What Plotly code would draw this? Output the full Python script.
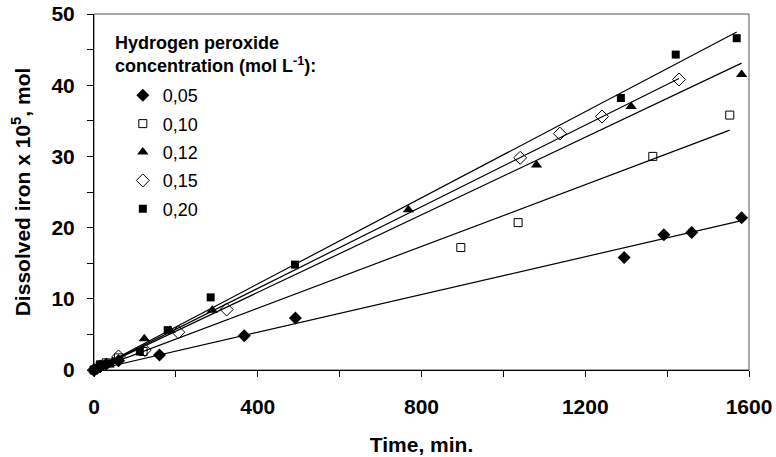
import numpy as np
import plotly.graph_objects as go

# ---- data (time in min, dissolved iron x 1e5 mol) ----
t_005 = [0, 15, 30, 60, 160, 367, 492, 1295, 1392, 1460, 1582]
v_005 = [0, 0.5, 0.8, 1.3, 2.1, 4.8, 7.3, 15.8, 19.0, 19.3, 21.4]

t_010 = [0, 15, 30, 60, 120, 896, 1036, 1365, 1553]
v_010 = [0, 0.6, 1.0, 1.7, 2.6, 17.2, 20.7, 30.0, 35.8]

t_012 = [0, 15, 45, 123, 186, 289, 768, 1081, 1312, 1582]
v_012 = [0, 0.7, 1.2, 4.4, 5.6, 8.4, 22.5, 28.8, 37.0, 41.5]

t_015 = [0, 15, 60, 124, 206, 324, 1041, 1138, 1241, 1429]
v_015 = [0, 0.5, 1.9, 2.8, 5.3, 8.5, 29.8, 33.2, 35.6, 40.8]

t_020 = [0, 15, 40, 112, 180, 285, 491, 1287, 1421, 1570]
v_020 = [0, 0.8, 0.9, 2.6, 5.6, 10.2, 14.8, 38.2, 44.3, 46.6]

labels = ["0,05", "0,10", "0,12", "0,15", "0,20"]
x_ticks = [0, 400, 800, 1200, 1600]
y_ticks = [0, 10, 20, 30, 40, 50]

series = [(t_005, v_005), (t_010, v_010), (t_012, v_012), (t_015, v_015), (t_020, v_020)]
markers = [
    dict(symbol="diamond", size=10, color="black"),
    dict(symbol="square-open", size=8, color="black", line=dict(width=1)),
    dict(symbol="triangle-up", size=10, color="black"),
    dict(symbol="diamond-open", size=10, color="black", line=dict(width=1)),
    dict(symbol="square", size=8, color="black"),
]

FONT = "Liberation Sans, Arial, sans-serif"

fig = go.Figure()

# trend lines (least squares through origin), drawn first
for (t, v) in series:
    t_arr = np.array(t, dtype=float)
    v_arr = np.array(v, dtype=float)
    k = (t_arr * v_arr).sum() / (t_arr * t_arr).sum()
    xs = np.array([0.0, t_arr.max()])
    fig.add_trace(go.Scatter(x=xs, y=k * xs, mode="lines",
                             line=dict(color="black", width=1.2),
                             showlegend=False, hoverinfo="skip"))

for i, ((t, v), m, lab) in enumerate(zip(series, markers, labels)):
    fig.add_trace(go.Scatter(x=t, y=v, mode="markers", name=lab, marker=m,
                             cliponaxis=False, legendgroup=lab))

fig.update_layout(
    width=776, height=457,
    margin=dict(l=94, r=27, t=14, b=87, autoexpand=False),
    plot_bgcolor="white", paper_bgcolor="white",
    font=dict(family=FONT, size=21, color="black", weight="bold"),
    showlegend=True,
    legend=dict(x=0.044, y=0.823, xanchor="left", yanchor="top",
                bgcolor="rgba(0,0,0,0)", tracegroupgap=2,
                font=dict(family=FONT, size=18, weight="normal")),
    xaxis=dict(range=[0, 1600], tickvals=x_ticks, ticktext=[str(x) for x in x_ticks],
               automargin=False,
               ticks="outside", ticklen=6, tickwidth=1, tickcolor="black",
               showline=True, linecolor="black", linewidth=1, showgrid=False, zeroline=False,
               minor=dict(dtick=200, tick0=0, ticks="outside", ticklen=6, tickcolor="black", showgrid=False),
               ticklabelstandoff=12,
               title=dict(text="Time, min.", standoff=20, font=dict(size=21))),
    yaxis=dict(range=[0, 50], tickvals=y_ticks, ticktext=[str(y) for y in y_ticks],
               automargin=False,
               ticks="outside", ticklen=6, tickwidth=1, tickcolor="black",
               showline=True, linecolor="black", linewidth=1, showgrid=False, zeroline=False,
               minor=dict(dtick=5, tick0=0, ticks="outside", ticklen=6, tickcolor="black", showgrid=False),
               ticklabelstandoff=8,
               title=dict(text="Dissolved iron x 10<sup>5</sup>, mol", standoff=15, font=dict(size=21))),
    shapes=[dict(type="rect", xref="paper", yref="paper", x0=0, y0=0, x1=1, y1=1,
                 line=dict(color="#555555", width=1), layer="below")],
    annotations=[dict(xref="paper", yref="paper", x=0.029, y=0.952, xanchor="left", yanchor="top",
                      align="left", showarrow=False,
                      text="Hydrogen peroxide<br>concentration (mol L<sup>-1</sup>):",
                      font=dict(family=FONT, size=18, weight="bold"))],
)

fig.write_html("out.html")
